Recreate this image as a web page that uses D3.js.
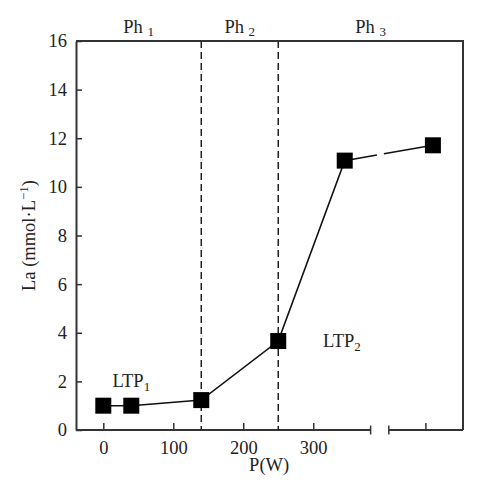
<!DOCTYPE html>
<html>
<head>
<meta charset="utf-8">
<script src="https://cdn.jsdelivr.net/npm/d3@7"></script>
<style>
  html, body { margin: 0; padding: 0; background: #fff; }
  svg { display: block; }
  text { font-family: "Liberation Serif", "DejaVu Serif", serif; fill: #222; }
</style>
</head>
<body>
<svg id="chart" width="482" height="500"></svg>
<script>
// ---- data ----
const power   = [0, 40, 140, 250, 345, 471];           // W (last point sits beyond the axis break)
const lactate = [1.0, 1.0, 1.23, 3.66, 11.08, 11.71];  // mmol/L
const phaseBounds = [140, 250];
const phaseLabels = ["1", "2", "3"];
const xTickValues = [0, 100, 200, 300];
const xExtraTicks = [461];
const yTickValues = [0, 2, 4, 6, 8, 10, 12, 14, 16];
const axisBreak = [382, 408];
const lineBreak = [391, 401];
const ltpText = ["LTP", "LTP"];
const ltpSub = ["1", "2"];
const ltpPower = [40, 341];
const ltpLevel = [1.78, 3.43];

// ---- layout ----
const W = 482, H = 500;
const FS = 18.5, SUB = 13;
const margin = { left: 76, right: 19, top: 41, bottom: 70 };
const svg = d3.select("#chart");
const x = d3.scaleLinear().domain([-39, 514]).range([margin.left, W - margin.right]);
const y = d3.scaleLinear().domain([0, 16]).range([H - margin.bottom, margin.top]);
const frameColor = "#333";

// y axis
const yAxis = svg.append("g")
  .attr("transform", `translate(${margin.left},0)`)
  .call(d3.axisLeft(y).tickValues(yTickValues).tickSizeInner(-6).tickSizeOuter(0).tickPadding(9));
yAxis.select(".domain").attr("stroke", frameColor).attr("stroke-width", 2);
yAxis.selectAll(".tick line").attr("stroke", frameColor).attr("stroke-width", 1.5);
yAxis.selectAll(".tick text").attr("font-size", FS).attr("fill", "#222");

// x axis (broken)
const x0 = y(0);
const xAxis = svg.append("g")
  .attr("transform", `translate(0,${x0})`)
  .call(d3.axisBottom(x).tickValues(xTickValues).tickSizeInner(-7).tickSizeOuter(0).tickPadding(11));
xAxis.select(".domain").remove();
xAxis.selectAll(".tick line").attr("stroke", frameColor).attr("stroke-width", 1.5);
xAxis.selectAll(".tick text").attr("font-size", FS).attr("fill", "#222");

svg.append("line").attr("x1", margin.left).attr("x2", x(axisBreak[0]))
  .attr("y1", x0).attr("y2", x0).attr("stroke", frameColor).attr("stroke-width", 2);
svg.append("line").attr("x1", x(axisBreak[1])).attr("x2", W - margin.right)
  .attr("y1", x0).attr("y2", x0).attr("stroke", frameColor).attr("stroke-width", 2);
axisBreak.forEach(b => {
  svg.append("line").attr("x1", x(b)).attr("x2", x(b))
    .attr("y1", x0 - 4.5).attr("y2", x0 + 4.5)
    .attr("stroke", frameColor).attr("stroke-width", 1.5);
});
xExtraTicks.forEach(t => {
  svg.append("line").attr("x1", x(t)).attr("x2", x(t))
    .attr("y1", x0).attr("y2", x0 - 7)
    .attr("stroke", frameColor).attr("stroke-width", 1.5);
});

// top and right frame
svg.append("path")
  .attr("d", `M${margin.left},${margin.top}H${W - margin.right}V${x0}`)
  .attr("fill", "none").attr("stroke", frameColor).attr("stroke-width", 2);

// phase dashed lines
phaseBounds.forEach(p => {
  svg.append("line").attr("x1", x(p)).attr("x2", x(p))
    .attr("y1", margin.top).attr("y2", x0)
    .attr("stroke", "#222").attr("stroke-width", 1.5).attr("stroke-dasharray", "7,4");
});

// phase labels
const edges = [x.domain()[0], ...phaseBounds, x.domain()[1]];
phaseLabels.forEach((lab, i) => {
  const cx = (x(edges[i]) + x(edges[i + 1])) / 2;
  const t = svg.append("text").attr("x", cx).attr("y", margin.top - 8)
    .attr("text-anchor", "middle").attr("font-size", FS);
  t.append("tspan").text("Ph ");
  t.append("tspan").attr("font-size", SUB).attr("dy", 3).text(lab);
});

// data line (with gap)
const pts = power.map((p, i) => [p, lactate[i]]);
const line = d3.line().x(d => x(d[0])).y(d => y(d[1]));
const interp = (a, b, xv) => [xv, a[1] + (b[1] - a[1]) * (xv - a[0]) / (b[0] - a[0])];
const last = pts.length - 1;
const seg1 = pts.slice(0, last).concat([interp(pts[last - 1], pts[last], lineBreak[0])]);
const seg2 = [interp(pts[last - 1], pts[last], lineBreak[1]), pts[last]];
[seg1, seg2].forEach(s => {
  svg.append("path").attr("d", line(s)).attr("fill", "none")
    .attr("stroke", "#111").attr("stroke-width", 1.6);
});

// markers
const sz = 16;
svg.selectAll("rect.pt").data(pts).enter().append("rect")
  .attr("class", "pt")
  .attr("x", d => x(d[0]) - sz / 2).attr("y", d => y(d[1]) - sz / 2)
  .attr("width", sz).attr("height", sz).attr("fill", "#000");

// LTP labels
ltpText.forEach((txt, i) => {
  const t = svg.append("text")
    .attr("x", x(ltpPower[i])).attr("y", y(ltpLevel[i]))
    .attr("text-anchor", "middle").attr("font-size", FS);
  t.append("tspan").text(txt);
  t.append("tspan").attr("font-size", SUB).attr("dy", 4).text(ltpSub[i]);
});

// axis titles
svg.append("text").attr("x", x(237)).attr("y", 471)
  .attr("text-anchor", "middle").attr("font-size", FS).text("P(W)");

const yl = svg.append("text")
  .attr("transform", `translate(35,${(margin.top + x0) / 2}) rotate(-90)`)
  .attr("text-anchor", "middle").attr("font-size", FS);
yl.append("tspan").text("La (mmol·L");
yl.append("tspan").attr("font-size", SUB).attr("dy", -7).text("−1");
yl.append("tspan").attr("dy", 7).text(")");
</script>
</body>
</html>
